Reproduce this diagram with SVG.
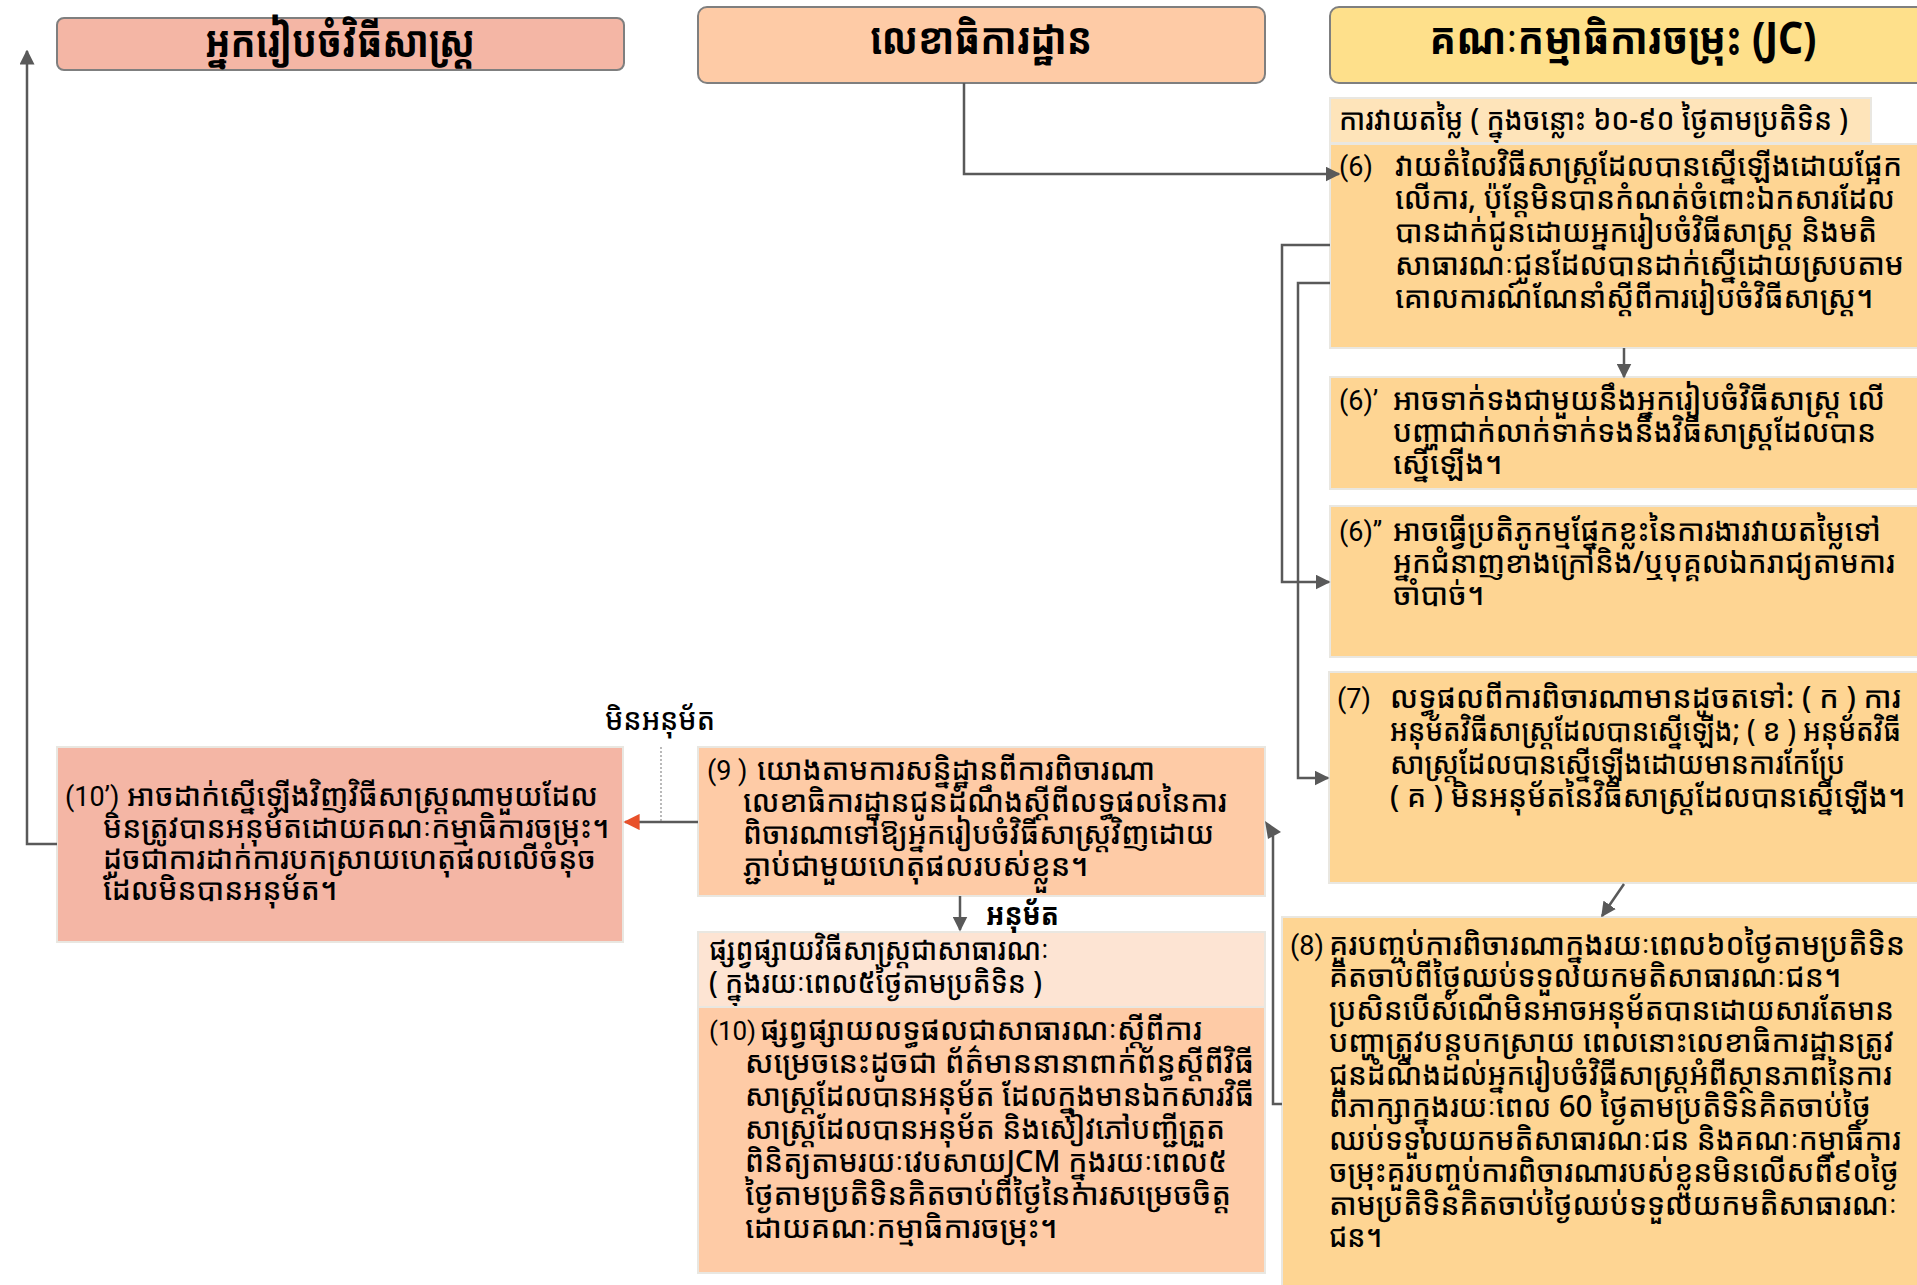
<svg xmlns="http://www.w3.org/2000/svg" width="1917" height="1285" viewBox="0 0 1917 1285">
  <defs>
    <style>
      .hdr { stroke: #7f7f7f; stroke-width: 2; }
      .box { stroke: #e9e7e1; stroke-width: 2; }
      .km { font-family: 'Noto Sans Khmer', 'Khmer OS', 'Khmer OS System', 'Noto Sans', 'Liberation Sans', sans-serif; fill: #000; }
      .body { font-size: 30px; font-weight: 500; }
      .bold { font-weight: bold; }
      .head { font-size: 44px; font-weight: bold; }
      .lat { font-family: Roboto, 'Liberation Sans', sans-serif; font-size: 27px; fill: #000; }
      .lat.sm { font-size: 26px; }
      .conn { fill: none; stroke: #595959; stroke-width: 2.5; }
    </style>
    <marker id="ah" viewBox="0 0 10 10" refX="9" refY="5" markerWidth="6" markerHeight="6" markerUnits="strokeWidth" orient="auto">
      <path d="M0,0 L10,5 L0,10 Z" fill="#595959"/>
    </marker>
    <marker id="ahRed" viewBox="0 0 10 10" refX="9" refY="5" markerWidth="6.5" markerHeight="6.5" markerUnits="strokeWidth" orient="auto">
      <path d="M0,0 L10,5 L0,10 Z" fill="#e8502a"/>
    </marker>
  </defs>
  <rect width="1917" height="1285" fill="#ffffff"/>

  <!-- column headers -->
  <g id="hdr-proponent">
    <rect class="hdr" x="57" y="18" width="567" height="52" rx="7" fill="#f4b6a5"/>
    <text class="km head" x="340" y="57" text-anchor="middle" textLength="270" lengthAdjust="spacingAndGlyphs">អ្នករៀបចំវិធីសាស្ត្រ</text>
  </g>
  <g id="hdr-secretariat">
    <rect class="hdr" x="698" y="7" width="567" height="76" rx="9" fill="#fecba6"/>
    <text class="km head" x="981" y="54" text-anchor="middle" textLength="222" lengthAdjust="spacingAndGlyphs">លេខាធិការដ្ឋាន</text>
  </g>
  <g id="hdr-jc">
    <rect class="hdr" x="1330" y="7" width="600" height="76" rx="9" fill="#fee08b"/>
    <text class="km head" x="1623" y="54" text-anchor="middle" textLength="387" lengthAdjust="spacingAndGlyphs">គណៈកម្មាធិការចម្រុះ (JC)</text>
  </g>

  <!-- Joint Committee column -->
  <g id="jc-period">
    <rect class="box" x="1330" y="98" width="541" height="45" fill="#fee4ba"/>
    <text class="km body" x="1339" y="130" textLength="509" lengthAdjust="spacingAndGlyphs">ការវាយតម្លៃ ( ក្នុងចន្លោះ ៦០-៩០ ថ្ងៃតាមប្រតិទិន )</text>
  </g>
  <g id="step-6">
    <rect class="box" x="1330" y="144" width="600" height="204" fill="#fed593"/>
    <text class="lat" x="1339" y="176">(6)</text>
    <text class="km body">
      <tspan x="1395" y="176" textLength="507" lengthAdjust="spacingAndGlyphs">វាយតំលៃវិធីសាស្ត្រដែលបានស្នើឡើងដោយផ្អែក</tspan>
      <tspan x="1395" y="209" textLength="500" lengthAdjust="spacingAndGlyphs">លើការ, ប៉ុន្តែមិនបានកំណត់ចំពោះឯកសារដែល</tspan>
      <tspan x="1395" y="242" textLength="482" lengthAdjust="spacingAndGlyphs">បានដាក់ជូនដោយអ្នករៀបចំវិធីសាស្ត្រ និងមតិ</tspan>
      <tspan x="1395" y="275" textLength="509" lengthAdjust="spacingAndGlyphs">សាធារណៈជូនដែលបានដាក់ស្នើដោយស្របតាម</tspan>
      <tspan x="1395" y="308" textLength="478" lengthAdjust="spacingAndGlyphs">គោលការណ៍ណែនាំស្តីពីការរៀបចំវិធីសាស្ត្រ។</tspan>
    </text>
  </g>
  <g id="step-6a">
    <rect class="box" x="1330" y="377" width="600" height="112" fill="#fed593"/>
    <text class="lat" x="1339" y="410">(6)’</text>
    <text class="km body">
      <tspan x="1393" y="410" textLength="492" lengthAdjust="spacingAndGlyphs">អាចទាក់ទងជាមួយនឹងអ្នករៀបចំវិធីសាស្ត្រ លើ</tspan>
      <tspan x="1393" y="442" textLength="483" lengthAdjust="spacingAndGlyphs">បញ្ហាជាក់លាក់ទាក់ទងនឹងវិធីសាស្ត្រដែលបាន</tspan>
      <tspan x="1393" y="474" textLength="109" lengthAdjust="spacingAndGlyphs">ស្នើឡើង។</tspan>
    </text>
  </g>
  <g id="step-6b">
    <rect class="box" x="1330" y="506" width="600" height="151" fill="#fed593"/>
    <text class="lat" x="1339" y="541">(6)’’</text>
    <text class="km body">
      <tspan x="1393" y="541" textLength="488" lengthAdjust="spacingAndGlyphs">អាចធ្វើប្រតិភូកម្មផ្នែកខ្លះនៃការងារវាយតម្លៃទៅ</tspan>
      <tspan x="1393" y="573" textLength="502" lengthAdjust="spacingAndGlyphs">អ្នកជំនាញខាងក្រៅនិង/ឬបុគ្គលឯករាជ្យតាមការ</tspan>
      <tspan x="1393" y="605" textLength="91" lengthAdjust="spacingAndGlyphs">ចាំបាច់។</tspan>
    </text>
  </g>
  <g id="step-7">
    <rect class="box" x="1329" y="672" width="600" height="211" fill="#fed593"/>
    <text class="lat" x="1337" y="708">(7)</text>
    <text class="km body">
      <tspan x="1390" y="708" textLength="511" lengthAdjust="spacingAndGlyphs">លទ្ធផលពីការពិចារណាមានដូចតទៅ: ( ក ) ការ</tspan>
      <tspan x="1390" y="741" textLength="511" lengthAdjust="spacingAndGlyphs">អនុម័តវិធីសាស្ត្រដែលបានស្នើឡើង; ( ខ ) អនុម័តវិធី</tspan>
      <tspan x="1390" y="774" textLength="455" lengthAdjust="spacingAndGlyphs">សាស្ត្រដែលបានស្នើឡើងដោយមានការកែប្រែ</tspan>
      <tspan x="1390" y="807" textLength="515" lengthAdjust="spacingAndGlyphs">( គ ) មិនអនុម័តនៃវិធីសាស្ត្រដែលបានស្នើឡើង។</tspan>
    </text>
  </g>
  <g id="step-8">
    <rect class="box" x="1282" y="917" width="648" height="380" fill="#fed593"/>
    <text class="lat" x="1290" y="955">(8)</text>
    <text class="km body">
      <tspan x="1329" y="955" textLength="576" lengthAdjust="spacingAndGlyphs">គួរបញ្ចប់ការពិចារណាក្នុងរយៈពេល៦០ថ្ងៃតាមប្រតិទិន</tspan>
      <tspan x="1329" y="987" textLength="512" lengthAdjust="spacingAndGlyphs">គិតចាប់ពីថ្ងៃឈប់ទទួលយកមតិសាធារណៈជន។</tspan>
      <tspan x="1329" y="1020" textLength="565" lengthAdjust="spacingAndGlyphs">ប្រសិនបើសំណើមិនអាចអនុម័តបានដោយសារតែមាន</tspan>
      <tspan x="1329" y="1052" textLength="565" lengthAdjust="spacingAndGlyphs">បញ្ហាត្រូវបន្តបកស្រាយ ពេលនោះលេខាធិការដ្ឋានត្រូវ</tspan>
      <tspan x="1329" y="1085" textLength="563" lengthAdjust="spacingAndGlyphs">ជូនដំណឹងដល់អ្នករៀបចំវិធីសាស្ត្រអំពីស្ថានភាពនៃការ</tspan>
      <tspan x="1329" y="1117" textLength="542" lengthAdjust="spacingAndGlyphs">ពីភាក្សាក្នុងរយៈពេល 60 ថ្ងៃតាមប្រតិទិនគិតចាប់ថ្ងៃ</tspan>
      <tspan x="1329" y="1150" textLength="572" lengthAdjust="spacingAndGlyphs">ឈប់ទទួលយកមតិសាធារណៈជន និងគណៈកម្មាធិការ</tspan>
      <tspan x="1329" y="1182" textLength="570" lengthAdjust="spacingAndGlyphs">ចម្រុះគួរបញ្ចប់ការពិចារណារបស់ខ្លួនមិនលើសពី៩០ថ្ងៃ</tspan>
      <tspan x="1329" y="1215" textLength="568" lengthAdjust="spacingAndGlyphs">តាមប្រតិទិនគិតចាប់ថ្ងៃឈប់ទទួលយកមតិសាធារណៈ</tspan>
      <tspan x="1329" y="1247" textLength="53" lengthAdjust="spacingAndGlyphs">ជន។</tspan>
    </text>
  </g>

  <!-- Secretariat column -->
  <g id="step-9">
    <rect class="box" x="698" y="747" width="567" height="149" fill="#fecba6"/>
    <text class="lat" x="707" y="780">(9 )</text>
    <text class="km body">
      <tspan x="757" y="780" textLength="398" lengthAdjust="spacingAndGlyphs">យោងតាមការសន្និដ្ឋានពីការពិចារណា</tspan>
      <tspan x="743" y="812" textLength="484" lengthAdjust="spacingAndGlyphs">លេខាធិការដ្ឋានជូនដំណឹងស្តីពីលទ្ធផលនៃការ</tspan>
      <tspan x="743" y="844" textLength="471" lengthAdjust="spacingAndGlyphs">ពិចារណាទៅឱ្យអ្នករៀបចំវិធីសាស្ត្រវិញដោយ</tspan>
      <tspan x="743" y="876" textLength="345" lengthAdjust="spacingAndGlyphs">ភ្ជាប់ជាមួយហេតុផលរបស់ខ្លួន។</tspan>
    </text>
  </g>
  <g id="publish-period">
    <rect class="box" x="698" y="932" width="567" height="75" fill="#fde4d3"/>
    <text class="km body">
      <tspan x="709" y="960" textLength="340" lengthAdjust="spacingAndGlyphs">ផ្សព្វផ្សាយវិធីសាស្ត្រជាសាធារណៈ</tspan>
      <tspan x="709" y="993" textLength="333" lengthAdjust="spacingAndGlyphs">( ក្នុងរយៈពេល៥ថ្ងៃតាមប្រតិទិន )</tspan>
    </text>
  </g>
  <g id="step-10">
    <rect class="box" x="698" y="1007" width="567" height="266" fill="#fecba6"/>
    <text class="lat sm" x="709" y="1040">(10)</text>
    <text class="km body">
      <tspan x="760" y="1040" textLength="442" lengthAdjust="spacingAndGlyphs">ផ្សព្វផ្សាយលទ្ធផលជាសាធារណៈស្តីពីការ</tspan>
      <tspan x="745" y="1073" textLength="509" lengthAdjust="spacingAndGlyphs">សម្រេចនេះដូចជា ព័ត៌មាននានាពាក់ព័ន្ធស្តីពីវិធី</tspan>
      <tspan x="745" y="1106" textLength="509" lengthAdjust="spacingAndGlyphs">សាស្ត្រដែលបានអនុម័ត ដែលក្នុងមានឯកសារវិធី</tspan>
      <tspan x="745" y="1139" textLength="480" lengthAdjust="spacingAndGlyphs">សាស្ត្រដែលបានអនុម័ត និងសៀវភៅបញ្ជីត្រួត</tspan>
      <tspan x="745" y="1172" textLength="482" lengthAdjust="spacingAndGlyphs">ពិនិត្យតាមរយៈវេបសាយJCM ក្នុងរយៈពេល៥</tspan>
      <tspan x="745" y="1205" textLength="486" lengthAdjust="spacingAndGlyphs">ថ្ងៃតាមប្រតិទិនគិតចាប់ពីថ្ងៃនៃការសម្រេចចិត្ត</tspan>
      <tspan x="745" y="1238" textLength="312" lengthAdjust="spacingAndGlyphs">ដោយគណៈកម្មាធិការចម្រុះ។</tspan>
    </text>
  </g>

  <!-- Proponent column -->
  <g id="step-10a">
    <rect class="box" x="57" y="747" width="566" height="195" fill="#f4b6a5"/>
    <text class="lat" x="65" y="806">(10’)</text>
    <text class="km body">
      <tspan x="127" y="806" textLength="471" lengthAdjust="spacingAndGlyphs">អាចដាក់ស្នើឡើងវិញវិធីសាស្ត្រណាមួយដែល</tspan>
      <tspan x="103" y="838" textLength="506" lengthAdjust="spacingAndGlyphs">មិនត្រូវបានអនុម័តដោយគណៈកម្មាធិការចម្រុះ។</tspan>
      <tspan x="103" y="869" textLength="493" lengthAdjust="spacingAndGlyphs">ដូចជាការដាក់ការបកស្រាយហេតុផលលើចំនុច</tspan>
      <tspan x="103" y="900" textLength="234" lengthAdjust="spacingAndGlyphs">ដែលមិនបានអនុម័ត។</tspan>
    </text>
  </g>

  <!-- decision labels -->
  <g id="label-rejected">
    <text class="km body" x="605" y="730" textLength="110" lengthAdjust="spacingAndGlyphs">មិនអនុម័ត</text>
  </g>
  <g id="label-approved">
    <text class="km body bold" x="986" y="925" textLength="73" lengthAdjust="spacingAndGlyphs">អនុម័ត</text>
  </g>

  <!-- connectors -->
  <g id="connectors">
    <path class="conn" d="M57,844 H27 V51" marker-end="url(#ah)"/>
    <path class="conn" d="M964,83 V174 H1339" marker-end="url(#ah)"/>
    <path class="conn" d="M1330,245 H1282 V582 H1329" marker-end="url(#ah)"/>
    <path class="conn" d="M1330,283 H1298 V778 H1328" stroke="#333333" marker-end="url(#ah)"/>
    <path class="conn" d="M1624,348 V377" marker-end="url(#ah)"/>
    <path class="conn" d="M1624,884 L1602,916" marker-end="url(#ah)"/>
    <path class="conn" d="M1282,1104 H1273 V836"/>
    <polygon points="1265,821 1281,832 1268,839" fill="#595959"/>
    <path class="conn" d="M698,822 H625" stroke="#e8502a" marker-end="url(#ahRed)"/>
    <path d="M661,747 V822" fill="none" stroke="#8c8c8c" stroke-width="1.2" stroke-dasharray="2,2"/>
    <path class="conn" d="M960,896 V930" marker-end="url(#ah)"/>
  </g>
</svg>
